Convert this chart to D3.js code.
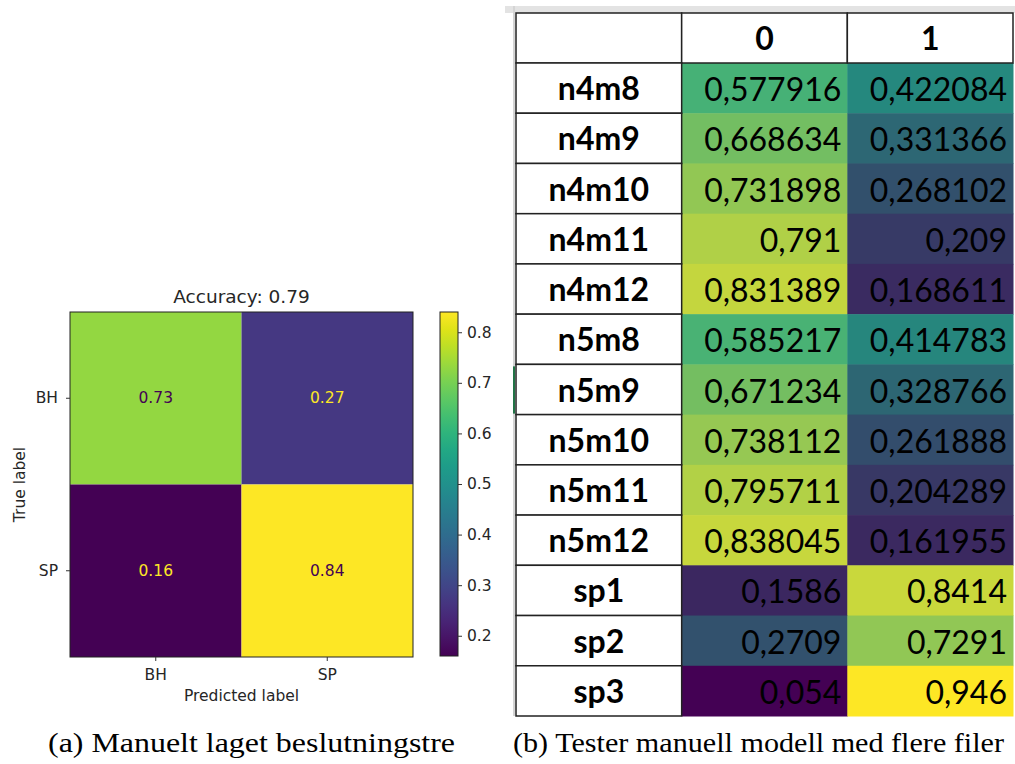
<!DOCTYPE html>
<html>
<head>
<meta charset="utf-8">
<script src="https://cdn.jsdelivr.net/npm/d3@7"></script>
<style>
body { margin: 0; background: #fff; }
</style>
</head>
<body>
<div id="chart"></div>
<script>
// (a) confusion matrix
const cmLabels = ["BH", "SP"];
const cmValues = [[0.73, 0.27], [0.16, 0.84]];
const cmTitle = "Accuracy: 0.79";
const cbTicks = [0.2, 0.3, 0.4, 0.5, 0.6, 0.7, 0.8];

// (b) table
const rowLabels = ["n4m8", "n4m9", "n4m10", "n4m11", "n4m12", "n5m8", "n5m9", "n5m10", "n5m11", "n5m12", "sp1", "sp2", "sp3"];
const colLabels = ["0", "1"];
const col0 = [0.577916, 0.668634, 0.731898, 0.791, 0.831389, 0.585217, 0.671234, 0.738112, 0.795711, 0.838045, 0.1586, 0.2709, 0.054];
const col1 = [0.422084, 0.331366, 0.268102, 0.209, 0.168611, 0.414783, 0.328766, 0.261888, 0.204289, 0.161955, 0.8414, 0.7291, 0.946];

const captions = ["(a) Manuelt laget beslutningstre", "(b) Tester manuell modell med flere filer"];

function chart() {
  const svg = d3.select("#chart")
    .append("svg")
    .attr("width", 1015)
    .attr("height", 764);

  svg.append("rect").attr("width", 1015).attr("height", 764).attr("fill", "#fff");

  // ---------- confusion matrix ----------
  const cm = { left: 70, right: 413, top: 312, bottom: 657 };
  const textCol = "#262626";
  const fs = "15.5px";
  const g = svg.append("g").style("font-family", "DejaVu Sans");

  const x = d3.scaleBand().domain(cmLabels).range([cm.left, cm.right]);
  const y = d3.scaleBand().domain(cmLabels).range([cm.top, cm.bottom]);

  const cells = cmValues.flatMap((row, i) => row.map((v, j) => ({ t: cmLabels[i], p: cmLabels[j], v })));
  const ext = d3.extent(cells, d => d.v);
  const color = d3.scaleSequential(d3.interpolateViridis).domain(ext);
  const thresh = (ext[0] + ext[1]) / 2;

  g.selectAll("rect.cell")
    .data(cells)
    .join("rect")
    .attr("class", "cell")
    .attr("x", d => x(d.p))
    .attr("y", d => y(d.t))
    .attr("width", x.bandwidth())
    .attr("height", y.bandwidth())
    .attr("fill", d => color(d.v));

  g.selectAll("text.val")
    .data(cells)
    .join("text")
    .attr("class", "val")
    .attr("x", d => x(d.p) + x.bandwidth() / 2)
    .attr("y", d => y(d.t) + y.bandwidth() / 2)
    .attr("text-anchor", "middle")
    .attr("dominant-baseline", "central")
    .attr("fill", d => d.v < thresh ? color(ext[1]) : color(ext[0]))
    .style("font-size", fs)
    .text(d => d.v.toFixed(2));

  // frame
  g.append("rect")
    .attr("x", cm.left).attr("y", cm.top)
    .attr("width", cm.right - cm.left).attr("height", cm.bottom - cm.top)
    .attr("fill", "none").attr("stroke", "#222").attr("stroke-width", 1);

  // axes
  const yAxis = g.append("g")
    .attr("transform", `translate(${cm.left},0)`)
    .call(d3.axisLeft(y).tickSize(4).tickSizeOuter(0).tickPadding(8));
  const xAxis = g.append("g")
    .attr("transform", `translate(0,${cm.bottom})`)
    .call(d3.axisBottom(x).tickSize(4).tickSizeOuter(0).tickPadding(8));
  [yAxis, xAxis].forEach(a => {
    a.select(".domain").remove();
    a.selectAll("line").attr("stroke", "#333");
    a.selectAll("text").attr("fill", textCol).style("font-size", fs).style("font-family", "DejaVu Sans");
  });

  g.append("text")
    .attr("x", (cm.left + cm.right) / 2).attr("y", 303)
    .attr("text-anchor", "middle").attr("fill", textCol)
    .style("font-size", "18.5px")
    .text(cmTitle);

  g.append("text")
    .attr("x", (cm.left + cm.right) / 2).attr("y", 701)
    .attr("text-anchor", "middle").attr("fill", textCol)
    .style("font-size", fs)
    .text("Predicted label");

  g.append("text")
    .attr("transform", `translate(25,${(cm.top + cm.bottom) / 2}) rotate(-90)`)
    .attr("text-anchor", "middle").attr("fill", textCol)
    .style("font-size", fs)
    .text("True label");

  // colorbar
  const cb = { x: 440, w: 18, top: 312, bottom: 656 };
  const cbScale = d3.scaleLinear().domain(ext).range([cb.bottom, cb.top]);
  const grad = svg.append("defs").append("linearGradient")
    .attr("id", "viridis").attr("x1", 0).attr("y1", 1).attr("x2", 0).attr("y2", 0);
  grad.selectAll("stop")
    .data(d3.range(0, 1.0001, 0.05))
    .join("stop")
    .attr("offset", d => d)
    .attr("stop-color", d => d3.interpolateViridis(d));
  g.append("rect")
    .attr("x", cb.x).attr("y", cb.top)
    .attr("width", cb.w).attr("height", cb.bottom - cb.top)
    .attr("fill", "url(#viridis)").attr("stroke", "#222").attr("stroke-width", 1);
  const cbAxis = g.append("g")
    .attr("transform", `translate(${cb.x + cb.w},0)`)
    .call(d3.axisRight(cbScale).tickValues(cbTicks).tickFormat(d3.format(".1f")).tickSize(4).tickSizeOuter(0).tickPadding(5));
  cbAxis.select(".domain").remove();
  cbAxis.selectAll("line").attr("stroke", "#333");
  cbAxis.selectAll("text").attr("fill", textCol).style("font-size", fs).style("font-family", "DejaVu Sans");

  // ---------- spreadsheet table ----------
  const t = svg.append("g").style("font-family", "Lato");
  const headTop = 13, headBottom = 63, tableBottom = 716;

  // spreadsheet chrome
  t.append("rect").attr("x", 505).attr("y", 6).attr("width", 510).attr("height", 7).attr("fill", "#e3e3e3");
  t.append("rect").attr("x", 513).attr("y", 6).attr("width", 2).attr("height", tableBottom - 6).attr("fill", "#d4d4d4");

  const rowY = d3.scaleBand().domain(rowLabels).range([headBottom, tableBottom]);
  const colX = d3.scaleBand().domain(["", ...colLabels]).range([516, 1013]);

  const vals = col0.flatMap((v, i) => [
    { r: rowLabels[i], c: colLabels[0], v },
    { r: rowLabels[i], c: colLabels[1], v: col1[i] }
  ]);
  const allV = col0.concat(col1);
  const tColor = d3.scaleLinear()
    .domain([d3.min(allV), d3.median(allV), d3.max(allV)])
    .range(["#440154", "#1fa587", "#fde725"]);

  t.selectAll("rect.tv")
    .data(vals)
    .join("rect")
    .attr("class", "tv")
    .attr("x", d => colX(d.c))
    .attr("y", d => rowY(d.r))
    .attr("width", colX.bandwidth() + 0.5)
    .attr("height", rowY.bandwidth() + 0.5)
    .attr("fill", d => tColor(d.v));

  t.selectAll("text.tv")
    .data(vals)
    .join("text")
    .attr("class", "tv")
    .attr("x", d => colX(d.c) + colX.bandwidth() - 6)
    .attr("y", d => rowY(d.r) + rowY.bandwidth() / 2 + 13)
    .attr("text-anchor", "end")
    .attr("fill", "#000")
    .style("font-size", "32px")
    .text(d => String(d.v).replace(".", ","));

  // header row
  t.selectAll("rect.head")
    .data(["", ...colLabels])
    .join("rect")
    .attr("class", "head")
    .attr("x", d => colX(d))
    .attr("y", headTop)
    .attr("width", colX.bandwidth())
    .attr("height", headBottom - headTop)
    .attr("fill", "#fff").attr("stroke", "#222").attr("stroke-width", 1.5);
  t.selectAll("text.head")
    .data(colLabels)
    .join("text")
    .attr("class", "head")
    .attr("x", d => colX(d) + colX.bandwidth() / 2)
    .attr("y", (headTop + headBottom) / 2 + 12)
    .attr("text-anchor", "middle")
    .style("font-size", "32px").style("font-weight", "bold")
    .text(d => d);

  // row label column
  t.selectAll("rect.rl")
    .data(rowLabels)
    .join("rect")
    .attr("class", "rl")
    .attr("x", colX(""))
    .attr("y", d => rowY(d))
    .attr("width", colX.bandwidth())
    .attr("height", rowY.bandwidth())
    .attr("fill", "#fff").attr("stroke", "#222").attr("stroke-width", 1.5);
  t.selectAll("text.rl")
    .data(rowLabels)
    .join("text")
    .attr("class", "rl")
    .attr("x", colX("") + colX.bandwidth() / 2)
    .attr("y", d => rowY(d) + rowY.bandwidth() / 2 + 12)
    .attr("text-anchor", "middle")
    .style("font-size", "32px").style("font-weight", "bold")
    .text(d => d);

  // active cell marker
  t.append("rect")
    .attr("x", 513).attr("y", rowY("n5m9") + 2)
    .attr("width", 2).attr("height", rowY.bandwidth() - 3)
    .attr("fill", "#217346");

  // ---------- captions ----------
  svg.selectAll("text.cap")
    .data(captions)
    .join("text")
    .attr("class", "cap")
    .attr("x", (d, i) => i === 0 ? 48 : 513)
    .attr("y", 752)
    .attr("textLength", (d, i) => i === 0 ? 407 : 491)
    .attr("lengthAdjust", "spacingAndGlyphs")
    .style("font-family", "Liberation Serif")
    .style("font-size", "27px")
    .attr("fill", "#000")
    .text(d => d);
}
chart();
</script>
</body>
</html>
